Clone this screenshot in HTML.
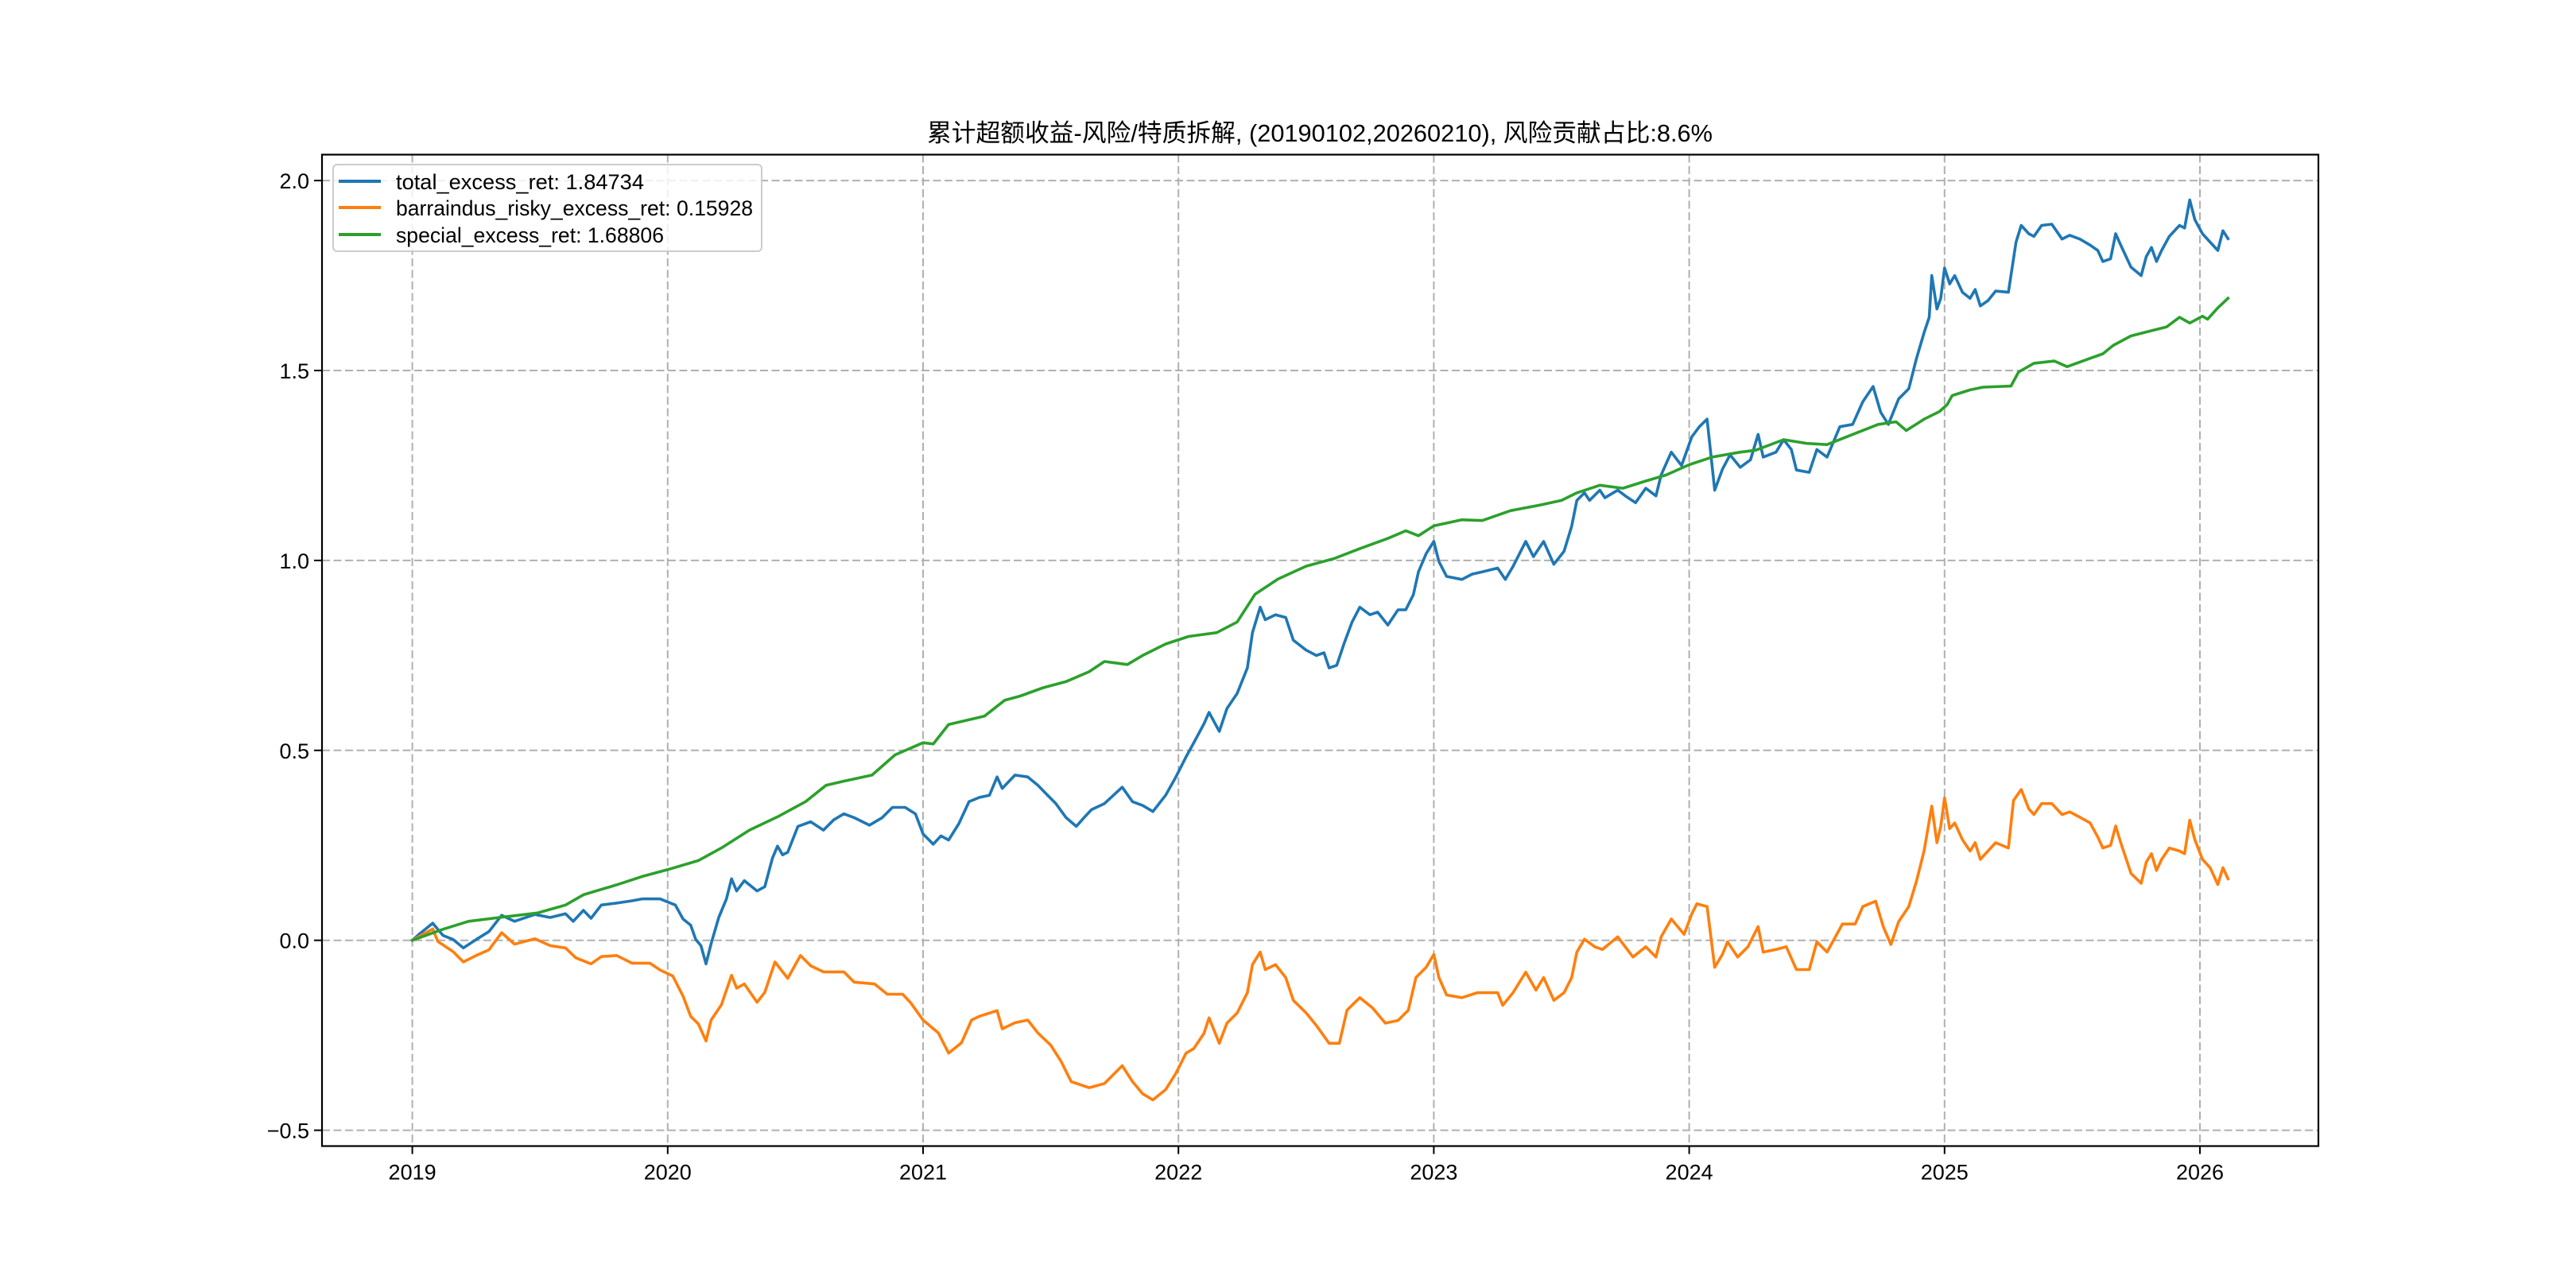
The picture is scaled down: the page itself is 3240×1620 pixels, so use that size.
<!DOCTYPE html>
<html><head><meta charset="utf-8"><style>
html,body{margin:0;padding:0;background:#fff;}
svg{display:block;}
text{font-family:"Liberation Sans","Noto Sans CJK SC",sans-serif;fill:#000;}
</style></head><body>
<svg id="chart" width="3240" height="1620" viewBox="0 0 3240 1620" xmlns="http://www.w3.org/2000/svg">
<rect x="0" y="0" width="3240" height="1620" fill="#fff"/>
<text x="1660" y="178" text-anchor="middle" font-size="31" textLength="988" lengthAdjust="spacingAndGlyphs">累计超额收益-风险/特质拆解, (20190102,20260210), 风险贡献占比:8.6%</text>
<g id="grid"></g>
<g id="ticks"></g>
<g id="series"></g>
<rect x="405" y="194.5" width="2511" height="1247" fill="none" stroke="#000" stroke-width="2.2"/>
<g>
<rect x="419" y="207" width="539" height="109" rx="5" fill="#fff" fill-opacity="0.8" stroke="#ccc" stroke-width="2"/>
<line x1="426" y1="228" x2="479" y2="228" stroke="#1f77b4" stroke-width="4"/>
<text x="498" y="238" font-size="27" textLength="312" lengthAdjust="spacingAndGlyphs">total_excess_ret: 1.84734</text>
<line x1="426" y1="261" x2="479" y2="261" stroke="#ff7f0e" stroke-width="4"/>
<text x="498" y="271" font-size="27" textLength="449" lengthAdjust="spacingAndGlyphs">barraindus_risky_excess_ret: 0.15928</text>
<line x1="426" y1="295" x2="479" y2="295" stroke="#2ca02c" stroke-width="4"/>
<text x="498" y="305" font-size="27" textLength="337" lengthAdjust="spacingAndGlyphs">special_excess_ret: 1.68806</text>
</g>
</svg>
<script>
const xTickYears = [2019,2020,2021,2022,2023,2024,2025,2026];
const yTickValues = [-0.5,0.0,0.5,1.0,1.5,2.0];
const yTickLabels = ["\u22120.5","0.0","0.5","1.0","1.5","2.0"];

const totalT = [2019.0,2019.03,2019.08,2019.12,2019.16,2019.2,2019.25,2019.3,2019.35,2019.4,2019.48,2019.54,2019.6,2019.63,2019.67,2019.7,2019.74,2019.8,2019.86,2019.9,2019.97,2020.03,2020.06,2020.09,2020.11,2020.13,2020.15,2020.17,2020.2,2020.23,2020.25,2020.27,2020.3,2020.35,2020.38,2020.41,2020.43,2020.45,2020.47,2020.51,2020.56,2020.61,2020.65,2020.69,2020.73,2020.79,2020.84,2020.88,2020.93,2020.97,2021.0,2021.04,2021.07,2021.1,2021.14,2021.18,2021.22,2021.26,2021.29,2021.31,2021.36,2021.41,2021.45,2021.48,2021.52,2021.56,2021.6,2021.63,2021.66,2021.71,2021.78,2021.82,2021.86,2021.9,2021.95,2021.99,2022.03,2022.06,2022.1,2022.12,2022.16,2022.19,2022.23,2022.27,2022.29,2022.32,2022.34,2022.38,2022.42,2022.45,2022.5,2022.54,2022.57,2022.59,2022.62,2022.65,2022.68,2022.71,2022.75,2022.78,2022.82,2022.86,2022.89,2022.92,2022.94,2022.97,2023.0,2023.02,2023.05,2023.11,2023.15,2023.19,2023.25,2023.28,2023.31,2023.36,2023.39,2023.43,2023.47,2023.51,2023.54,2023.56,2023.59,2023.61,2023.65,2023.67,2023.72,2023.75,2023.79,2023.83,2023.87,2023.89,2023.93,2023.97,2024.01,2024.04,2024.07,2024.1,2024.13,2024.16,2024.2,2024.24,2024.27,2024.29,2024.34,2024.37,2024.4,2024.42,2024.47,2024.5,2024.54,2024.59,2024.64,2024.68,2024.72,2024.75,2024.78,2024.82,2024.86,2024.89,2024.92,2024.94,2024.95,2024.97,2024.985,2025.0,2025.02,2025.04,2025.07,2025.1,2025.12,2025.14,2025.17,2025.2,2025.25,2025.26,2025.28,2025.3,2025.33,2025.35,2025.38,2025.42,2025.46,2025.49,2025.53,2025.57,2025.6,2025.62,2025.65,2025.67,2025.69,2025.73,2025.77,2025.79,2025.81,2025.83,2025.85,2025.88,2025.92,2025.94,2025.96,2025.98,2026.01,2026.04,2026.07,2026.09,2026.11];
const totalV = [0,0.018,0.045,0.013,0.002,-0.02,0.002,0.023,0.066,0.05,0.068,0.06,0.07,0.05,0.079,0.058,0.093,0.098,0.104,0.109,0.109,0.093,0.056,0.04,0.002,-0.014,-0.062,-0.009,0.06,0.109,0.162,0.13,0.157,0.13,0.141,0.216,0.248,0.225,0.232,0.3,0.312,0.29,0.317,0.333,0.323,0.303,0.323,0.35,0.35,0.333,0.28,0.253,0.275,0.264,0.307,0.365,0.376,0.382,0.43,0.4,0.435,0.43,0.408,0.387,0.36,0.323,0.3,0.323,0.344,0.36,0.403,0.365,0.355,0.339,0.382,0.43,0.483,0.52,0.57,0.6,0.55,0.61,0.65,0.717,0.81,0.877,0.844,0.857,0.85,0.79,0.764,0.75,0.757,0.717,0.724,0.784,0.838,0.877,0.857,0.864,0.83,0.87,0.87,0.91,0.97,1.018,1.05,0.997,0.958,0.95,0.964,0.97,0.98,0.95,0.984,1.05,1.01,1.05,0.99,1.024,1.09,1.158,1.178,1.158,1.185,1.165,1.185,1.17,1.152,1.19,1.17,1.225,1.285,1.25,1.325,1.352,1.372,1.185,1.24,1.278,1.245,1.265,1.332,1.272,1.285,1.318,1.292,1.238,1.232,1.292,1.272,1.352,1.358,1.418,1.458,1.39,1.358,1.425,1.452,1.532,1.6,1.64,1.75,1.662,1.69,1.77,1.728,1.75,1.706,1.69,1.713,1.67,1.684,1.709,1.706,1.75,1.838,1.882,1.86,1.853,1.882,1.885,1.846,1.856,1.846,1.83,1.816,1.787,1.794,1.86,1.83,1.772,1.75,1.8,1.824,1.787,1.816,1.853,1.882,1.875,1.949,1.897,1.86,1.838,1.816,1.868,1.847];

const riskyT = [2019.0,2019.08,2019.1,2019.16,2019.2,2019.25,2019.3,2019.35,2019.4,2019.48,2019.54,2019.6,2019.64,2019.7,2019.74,2019.8,2019.86,2019.93,2019.97,2020.02,2020.06,2020.09,2020.12,2020.15,2020.17,2020.21,2020.25,2020.27,2020.3,2020.35,2020.38,2020.42,2020.47,2020.52,2020.56,2020.61,2020.69,2020.73,2020.81,2020.86,2020.92,2020.95,2021.0,2021.06,2021.1,2021.15,2021.19,2021.22,2021.29,2021.31,2021.36,2021.41,2021.45,2021.5,2021.54,2021.58,2021.65,2021.71,2021.78,2021.82,2021.86,2021.9,2021.95,2021.99,2022.03,2022.06,2022.1,2022.12,2022.16,2022.19,2022.23,2022.27,2022.29,2022.32,2022.34,2022.38,2022.42,2022.45,2022.5,2022.54,2022.59,2022.63,2022.66,2022.71,2022.76,2022.81,2022.86,2022.9,2022.93,2022.97,2023.0,2023.02,2023.05,2023.11,2023.17,2023.25,2023.27,2023.31,2023.36,2023.4,2023.43,2023.47,2023.51,2023.54,2023.56,2023.59,2023.63,2023.66,2023.72,2023.78,2023.83,2023.87,2023.89,2023.93,2023.98,2024.01,2024.03,2024.07,2024.1,2024.13,2024.15,2024.19,2024.23,2024.27,2024.29,2024.34,2024.38,2024.42,2024.47,2024.5,2024.54,2024.6,2024.65,2024.68,2024.73,2024.76,2024.79,2024.82,2024.86,2024.89,2024.92,2024.95,2024.97,2024.985,2025.0,2025.02,2025.04,2025.07,2025.1,2025.12,2025.14,2025.17,2025.2,2025.25,2025.27,2025.3,2025.33,2025.35,2025.38,2025.42,2025.46,2025.49,2025.53,2025.57,2025.6,2025.62,2025.65,2025.67,2025.69,2025.73,2025.77,2025.79,2025.81,2025.83,2025.85,2025.88,2025.92,2025.94,2025.96,2025.98,2026.01,2026.04,2026.07,2026.09,2026.11];
const riskyV = [0,0.03,-0.003,-0.03,-0.057,-0.04,-0.025,0.02,-0.01,0.004,-0.014,-0.02,-0.046,-0.062,-0.043,-0.04,-0.06,-0.06,-0.078,-0.094,-0.147,-0.2,-0.22,-0.265,-0.21,-0.17,-0.092,-0.126,-0.115,-0.163,-0.137,-0.057,-0.1,-0.04,-0.067,-0.083,-0.083,-0.11,-0.115,-0.142,-0.142,-0.163,-0.21,-0.244,-0.297,-0.27,-0.21,-0.2,-0.185,-0.233,-0.217,-0.21,-0.244,-0.276,-0.318,-0.372,-0.388,-0.377,-0.33,-0.372,-0.404,-0.42,-0.393,-0.35,-0.297,-0.285,-0.245,-0.204,-0.271,-0.218,-0.191,-0.138,-0.064,-0.031,-0.077,-0.064,-0.098,-0.158,-0.191,-0.224,-0.271,-0.271,-0.184,-0.151,-0.178,-0.218,-0.211,-0.184,-0.098,-0.071,-0.037,-0.098,-0.144,-0.151,-0.138,-0.138,-0.171,-0.138,-0.084,-0.131,-0.098,-0.158,-0.138,-0.098,-0.031,0.003,-0.017,-0.024,0.009,-0.044,-0.017,-0.044,0.009,0.056,0.016,0.069,0.096,0.089,-0.071,-0.037,-0.004,-0.044,-0.017,0.036,-0.031,-0.024,-0.017,-0.077,-0.077,-0.004,-0.031,0.043,0.043,0.089,0.103,0.036,-0.011,0.049,0.089,0.156,0.236,0.353,0.257,0.3,0.375,0.294,0.309,0.265,0.235,0.257,0.213,0.235,0.257,0.243,0.368,0.397,0.346,0.331,0.36,0.36,0.331,0.338,0.324,0.309,0.272,0.243,0.25,0.301,0.257,0.176,0.15,0.206,0.228,0.184,0.213,0.243,0.235,0.228,0.316,0.265,0.213,0.191,0.147,0.191,0.162];

const specialT = [2019.0,2019.12,2019.22,2019.35,2019.49,2019.6,2019.67,2019.8,2019.9,2020.0,2020.12,2020.21,2020.32,2020.43,2020.54,2020.62,2020.69,2020.8,2020.89,2021.0,2021.04,2021.1,2021.24,2021.32,2021.38,2021.47,2021.56,2021.65,2021.71,2021.8,2021.86,2021.95,2022.04,2022.15,2022.23,2022.3,2022.39,2022.5,2022.61,2022.71,2022.82,2022.89,2022.94,2023.0,2023.11,2023.19,2023.3,2023.41,2023.5,2023.56,2023.65,2023.74,2023.83,2023.91,2024.0,2024.09,2024.2,2024.26,2024.37,2024.46,2024.54,2024.63,2024.74,2024.81,2024.85,2024.92,2024.98,2025.01,2025.03,2025.1,2025.15,2025.26,2025.29,2025.35,2025.43,2025.48,2025.57,2025.62,2025.66,2025.73,2025.8,2025.87,2025.92,2025.96,2026.01,2026.03,2026.07,2026.11];
const specialV = [0,0.029,0.05,0.061,0.072,0.093,0.12,0.146,0.168,0.186,0.21,0.243,0.29,0.325,0.365,0.408,0.419,0.435,0.488,0.52,0.517,0.568,0.59,0.632,0.643,0.665,0.681,0.707,0.734,0.726,0.75,0.78,0.8,0.81,0.838,0.911,0.951,0.985,1.005,1.031,1.058,1.078,1.065,1.091,1.107,1.105,1.131,1.145,1.158,1.178,1.198,1.19,1.209,1.225,1.252,1.272,1.285,1.29,1.318,1.308,1.305,1.329,1.358,1.365,1.342,1.372,1.392,1.41,1.434,1.449,1.456,1.459,1.496,1.519,1.525,1.51,1.532,1.544,1.566,1.591,1.603,1.615,1.64,1.625,1.643,1.635,1.665,1.69];

const NS = "http://www.w3.org/2000/svg";
const PL = 405, PR = 2916, PT = 194.5, PB = 1441.5;
function xScale(t){ return 518.6 + (t - 2019) * (2767 - 518.6) / 7; }
function yScale(v){ return 1182.7 - v * 477.8; }
function mk(tag, attrs, parent){ const e = document.createElementNS(NS, tag); for (const k in attrs) e.setAttribute(k, attrs[k]); parent.appendChild(e); return e; }

const grid = document.getElementById('grid');
const ticks = document.getElementById('ticks');
xTickYears.forEach(function(yr){
  const x = xScale(yr);
  const gl = mk('line', {x1:x, y1:PT, x2:x, y2:PB, stroke:'#b0b0b0', 'stroke-width':2, 'stroke-dasharray':'10,4.5'}, grid);
  
  
  const tk = mk('line', {x1:x, y1:PB, x2:x, y2:PB+10, stroke:'#000', 'stroke-width':2}, ticks);
  
  
  const lb = mk('text', {x:x, y:PB+42, 'text-anchor':'middle', 'font-size':27}, ticks);
  lb.textContent = String(yr);
  
  
});
yTickValues.forEach(function(v, i){
  const y = yScale(v);
  const gl = mk('line', {x1:PL, y1:y, x2:PR, y2:y, stroke:'#b0b0b0', 'stroke-width':2, 'stroke-dasharray':'10,4.5'}, grid);
  
  
  const tk = mk('line', {x1:PL-10, y1:y, x2:PL, y2:y, stroke:'#000', 'stroke-width':2}, ticks);
  
  
  const lb = mk('text', {x:PL-16, y:y+10, 'text-anchor':'end', 'font-size':27}, ticks);
  lb.textContent = yTickLabels[i];
  
  
});

const seriesG = document.getElementById('series');
function drawLine(ts, vs, color, name){
  let d = '';
  for (let i = 0; i < ts.length; i++) d += (i ? 'L' : 'M') + xScale(ts[i]).toFixed(1) + ' ' + yScale(vs[i]).toFixed(1);
  const p = mk('path', {d:d, fill:'none', stroke:color, 'stroke-width':3.6, 'stroke-linejoin':'round', 'stroke-linecap':'square'}, seriesG);
  
  
}
drawLine(totalT, totalV, '#1f77b4', 'total-excess-ret-line');
drawLine(riskyT, riskyV, '#ff7f0e', 'risky-excess-ret-line');
drawLine(specialT, specialV, '#2ca02c', 'special-excess-ret-line');
</script>
</body></html>
